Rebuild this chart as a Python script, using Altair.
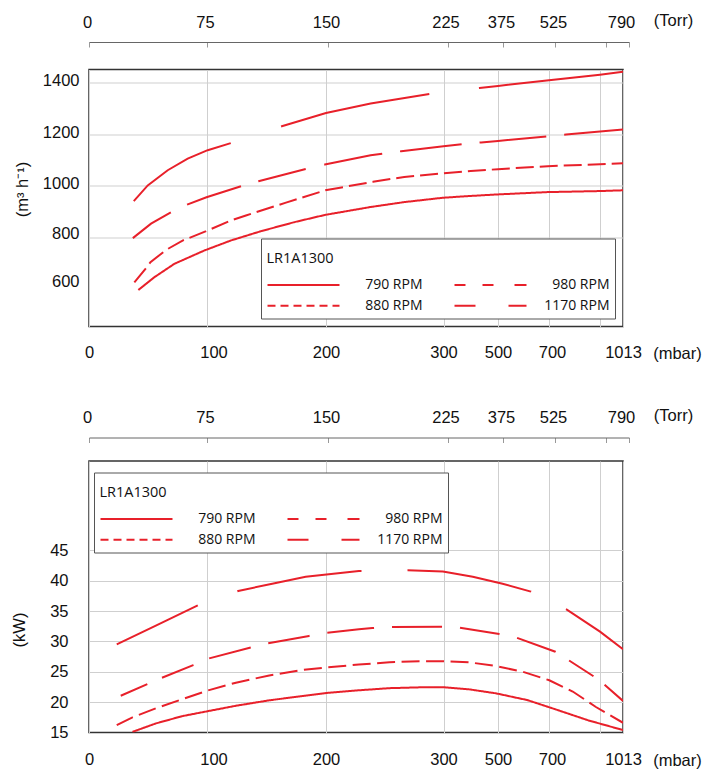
import altair as alt
import pandas as pd

RED = "#e8202a"
FONT = "Liberation Sans, Arial, sans-serif"
LFONT = "Open Sans"
SERIES = ["790 RPM", "880 RPM", "980 RPM", "1170 RPM"]

# ---------- x axes (piecewise pressure scale) ----------
mbar_ticks = [0, 100, 200, 300, 500, 700, 900, 1013]
mbar_pos = [0, 117.5, 237, 354.5, 409, 460, 511, 534]
torr_ticks = [0, 75, 150, 225, 375, 525, 675, 790]
torr_pos = [0, 118, 239, 358.5, 414, 466, 517, 540]

# ---------- top chart: flow (m3/h) ----------
flow_p_790 = [42, 55.7, 72.7, 98.3, 120.6, 145.7, 173.5, 199, 238, 266.6, 299.5, 400, 500, 695, 900, 1013]
flow_v_790 = [594, 644, 696, 748, 787, 823, 858, 886, 917, 936, 953, 960, 966, 975, 979, 982]
flow_p_880 = [38.6, 47.7, 52.3, 65.6, 80, 99.7, 120.6, 133, 166.5, 199.4, 240, 266.6, 298, 400, 500, 695, 900, 1013]
flow_v_880 = [624, 674, 702, 750, 787, 823, 865, 884, 934, 982, 1015, 1034, 1047, 1057, 1064, 1076, 1083, 1087]
flow_p_980 = [37.3, 52.8, 70, 83.5, 100, 129, 143.5, 183, 199, 238, 264, 300, 371, 438, 500, 695, 767, 900, 1013]
flow_v_980 = [796, 852, 897, 926, 955, 998, 1017, 1065, 1082, 1118, 1134, 1153, 1162, 1168, 1174, 1192, 1199, 1211, 1219]
flow_p_1170 = [38.1, 50, 67, 84, 101, 120.6, 163, 200, 238, 288, 300, 432, 500, 700, 900, 1013]
flow_v_1170 = [940, 1001, 1060, 1105, 1138, 1166, 1231, 1283, 1320, 1357, 1362, 1380, 1388, 1410, 1432, 1443]

# ---------- bottom chart: power (kW) ----------
pow_p_790 = [37, 57, 79.5, 100.8, 124.6, 152.5, 180.3, 200, 228, 254, 282.5, 300, 395, 492, 614, 723, 854, 1013]
pow_v_790 = [15.1, 16.5, 17.7, 18.5, 19.4, 20.3, 21.0, 21.5, 21.95, 22.3, 22.45, 22.45, 22.1, 21.45, 20.35, 18.85, 17.0, 15.4]
pow_p_880 = [23.6, 37, 57, 79.5, 100.8, 124.6, 152.5, 180.3, 200, 228, 254, 279.5, 300, 395, 492, 597, 701, 793, 884, 1013]
pow_v_880 = [16.2, 17.5, 19.0, 20.5, 21.9, 23.2, 24.4, 25.3, 25.7, 26.2, 26.55, 26.75, 26.75, 26.55, 25.95, 25.0, 23.6, 21.75, 19.2, 16.6]
pow_p_980 = [27, 49.7, 62, 88.7, 102.3, 137, 151.6, 185.8, 200, 228, 239.5, 255, 298, 358.5, 505, 573, 725, 777, 873, 921, 1013]
pow_v_980 = [21.05, 22.96, 24.0, 26.1, 27.2, 29.0, 29.7, 30.9, 31.4, 32.0, 32.2, 32.35, 32.4, 32.25, 31.2, 30.6, 28.3, 26.9, 24.3, 22.9, 20.2]
pow_p_1170 = [23.6, 56.9, 93.2, 126.5, 155, 183, 228, 269.6, 299.5, 407.5, 518, 629, 767, 900, 1013]
pow_v_1170 = [29.5, 32.6, 36.0, 38.3, 39.5, 40.65, 41.6, 41.7, 41.5, 40.65, 39.5, 38.2, 35.3, 31.6, 28.7]

# ---------- line styles ----------
dash_top = {
    "790 RPM": [1, 0],
    "880 RPM": [18, 6],
    "980 RPM": [46, 18, 57, 18, 49, 19, 59, 18, 62, 18, 67, 18, 60, 18],
    "1170 RPM": [115, 53, 152, 50, 200, 50],
}
dash_bot = {
    "790 RPM": [1, 0],
    "880 RPM": [18, 6.5],
    "980 RPM": [29, 16, 34, 17, 43, 18, 42, 18, 47, 18, 50, 18, 40, 18, 41, 16, 29, 14, 40, 14],
    "1170 RPM": [90, 42, 126, 46, 126, 39, 200, 40],
}
legend_dash = [[1, 0], [8, 5], [11, 17, 11, 21, 12, 20], [21, 33, 20, 30]]


def frame(series_lists):
    rows = []
    for name, (ps, vs) in series_lists.items():
        for p, v in zip(ps, vs):
            rows.append({"p": p, "v": v, "s": name})
    return pd.DataFrame(rows)


flow_df = frame({
    "790 RPM": (flow_p_790, flow_v_790),
    "880 RPM": (flow_p_880, flow_v_880),
    "980 RPM": (flow_p_980, flow_v_980),
    "1170 RPM": (flow_p_1170, flow_v_1170),
})
pow_df = frame({
    "790 RPM": (pow_p_790, pow_v_790),
    "880 RPM": (pow_p_880, pow_v_880),
    "980 RPM": (pow_p_980, pow_v_980),
    "1170 RPM": (pow_p_1170, pow_v_1170),
})
torr_df = pd.DataFrame({"t": torr_ticks})

xscale = alt.Scale(domain=mbar_ticks, range=mbar_pos, nice=False, zero=False)
tscale = alt.Scale(domain=torr_ticks, range=torr_pos, nice=False, zero=False)

common_label = dict(labelFont=FONT, labelFontSize=16.5, labelColor="#111",
                    titleFont=FONT, titleFontSize=16.5, titleColor="#111",
                    titleFontWeight="normal")


def mbar_axis(label_dy):
    return alt.Axis(
        values=mbar_ticks, format="d",
        labelExpr="datum.value == 900 ? '' : datum.label",
        grid=True, gridColor="#cfcfcf", gridWidth=1,
        ticks=False, domain=False, labelPadding=label_dy,
        labelFlush=False, labelOverlap=False, labelBound=False,
        labelOffset={"condition": [{"test": "datum.value == 100", "value": 7},
                                   {"test": "datum.value == 700", "value": 3}],
                     "value": 0},
        title="(mbar)", titleX=588, titleY=label_dy + 9, titleAngle=0,
        titleAlign="center", titleBaseline="middle",
        **common_label,
    )


def torr_axis(offset):
    return alt.Axis(
        orient="top", values=torr_ticks, format="d",
        labelExpr="datum.value == 675 ? '' : datum.label",
        grid=False, domain=True, domainColor="#666", domainWidth=1,
        ticks=True, tickColor="#999", tickSize={"expr": "-5"},
        offset=offset, labelPadding=17,
        labelFlush=False, labelOverlap=False, labelBound=False,
        labelOffset={"condition": [{"test": "datum.value == 790", "value": -8}],
                     "value": -2},
        title="(Torr)", titleX=584, titleY=-22, titleAngle=0,
        titleAlign="center", titleBaseline="middle",
        **common_label,
    )


def panel(df, dashes, yscale, yaxis, legend_xy, height, torr_offset, label_dy):
    layers = []
    for i, s in enumerate(["790 RPM", "880 RPM", "980 RPM", "1170 RPM"]):
        layers.append(
            alt.Chart(df).transform_filter(alt.datum.s == s)
            .mark_line(color=RED, strokeWidth=2, strokeDash=dashes[s], clip=True)
            .encode(
                x=alt.X("p:Q", scale=xscale, axis=mbar_axis(label_dy) if i == 0 else None),
                y=alt.Y("v:Q", scale=yscale, axis=yaxis if i == 0 else None),
                order="p:Q",
            )
        )
    legend_layer = (
        alt.Chart(df).transform_filter("false")
        .mark_line(color=RED, strokeWidth=2, clip=True)
        .encode(
            x=alt.X("p:Q", scale=xscale, axis=None),
            y=alt.Y("v:Q", scale=yscale, axis=None),
            strokeDash=alt.StrokeDash(
                "s:N",
                scale=alt.Scale(domain=SERIES, range=legend_dash),
                legend=alt.Legend(
                    title="LR1A1300", orient="none",
                    legendX=legend_xy[0], legendY=legend_xy[1],
                    columns=2, symbolType="stroke", symbolSize=5184,
                    symbolStrokeWidth=2, symbolStrokeColor=RED, clipHeight=8,
                    labelAlign="right", labelOffset=82, columnPadding=31,
                    rowPadding=6.8, padding=5.5, strokeColor="#555",
                    fillColor="white", titleFont=LFONT, titleFontSize=14.5,
                    titleFontWeight="normal", titlePadding=22.5, titleColor="#111",
                    titleBaseline="line-top", titleLineHeight=30,
                    labelFont=LFONT, labelFontSize=14, labelColor="#111",
                    labelLimit=200,
                ),
            ),
        )
    )
    torr_layer = (
        alt.Chart(torr_df).mark_point(opacity=0)
        .encode(x=alt.X("t:Q", scale=tscale, axis=torr_axis(torr_offset)))
    )
    ch = (alt.layer(*layers, legend_layer, torr_layer)
          .resolve_scale(x="independent")
          .resolve_axis(x="independent", y="independent"))
    return ch.properties(width=534, height=height)


flow_yaxis = alt.Axis(
    values=[600, 800, 1000, 1200, 1400], format="d", grid=True, gridColor="#cfcfcf",
    gridOpacity={"condition": {"test": "datum.value < 700", "value": 0}, "value": 1},
    ticks=False, domain=False, labelPadding=10,
    labelOffset={"condition": [{"test": "datum.value == 600", "value": -7},
                               {"test": "datum.value == 800", "value": -4}],
                 "value": -2},
    title="(m³ h⁻¹)", titleX=-67, titleY=119.5, titleAngle=270,
    titleAlign="center", titleBaseline="middle",
    **common_label,
)
pow_yaxis = alt.Axis(
    values=[15, 20, 25, 30, 35, 40, 45], format="d", grid=True, gridColor="#cfcfcf",
    ticks=False, domain=False, labelPadding=21,
    title="(kW)", titleX=-70, titleY=168.5, titleAngle=270,
    titleAlign="center", titleBaseline="middle",
    **common_label,
)

top = panel(flow_df, dash_top, alt.Scale(domain=[452, 1452], nice=False, zero=False),
            flow_yaxis, (172, 169), 257, 27.5, 18)
bottom = panel(pow_df, dash_bot, alt.Scale(domain=[15, 59.7], nice=False, zero=False),
               pow_yaxis, (5, 11.5), 271.5, 23.5, 19)

chart = (
    alt.vconcat(top, bottom, spacing=42.5)
    .resolve_scale(strokeDash="independent")
    .resolve_legend(strokeDash="independent")
    .properties(padding={"left": 2, "top": 2.5, "right": 5, "bottom": 5}, background="white")
    .configure_view(stroke="#333", strokeWidth=1.5)
)

chart.save("out.html", embed_options={"renderer": "svg", "actions": False})
